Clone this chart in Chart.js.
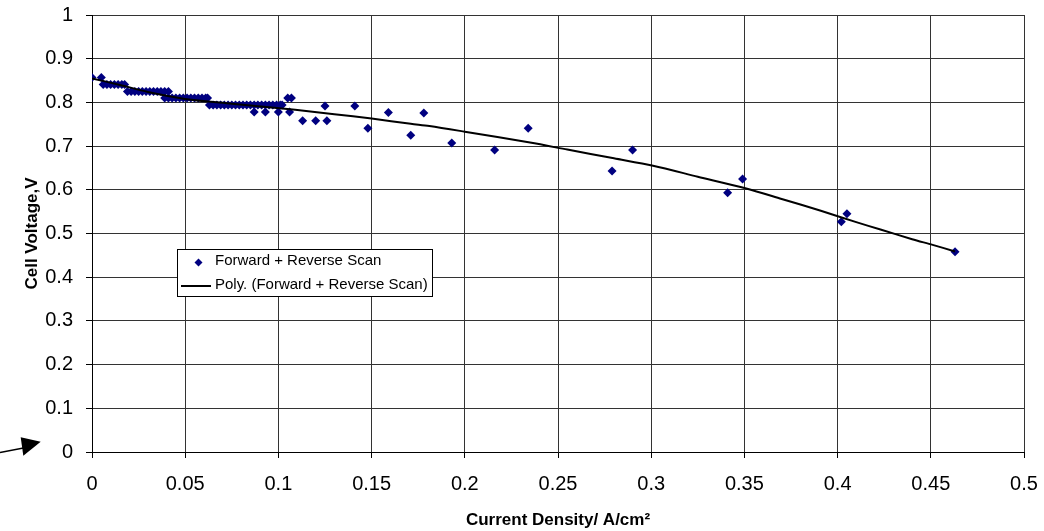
<!DOCTYPE html>
<html>
<head>
<meta charset="utf-8">
<script src="https://cdn.jsdelivr.net/npm/chart.js@4/dist/chart.umd.min.js"></script>
<style>
html,body{margin:0;padding:0;background:#fff;}
#wrap{width:1044px;height:531px;}
</style>
</head>
<body>
<div id="wrap"><canvas id="c" width="1044" height="531"></canvas></div>
<script>
// ---- data ----
const scanX = [
  0, 0.005,
  0.006, 0.008, 0.010, 0.012, 0.014, 0.016, 0.0175,
  0.019, 0.021, 0.023, 0.025, 0.027, 0.029, 0.031, 0.033, 0.035, 0.037, 0.039, 0.041,
  0.039, 0.041, 0.043, 0.045, 0.047, 0.049, 0.051, 0.053, 0.055, 0.057, 0.059, 0.061, 0.062,
  0.063, 0.065, 0.067, 0.069, 0.071, 0.073, 0.075, 0.077, 0.079, 0.081, 0.083, 0.085, 0.087, 0.089, 0.091, 0.093, 0.095, 0.097, 0.099, 0.101, 0.102,
  0.087, 0.093, 0.100, 0.106,
  0.105, 0.107,
  0.113, 0.120, 0.126, 0.125, 0.141, 0.148, 0.159, 0.171, 0.178, 0.193, 0.216, 0.234,
  0.279, 0.290, 0.341, 0.349, 0.402, 0.405, 0.463
];
const scanY = [
  0.857, 0.857,
  0.841, 0.841, 0.841, 0.841, 0.841, 0.841, 0.841,
  0.825, 0.825, 0.825, 0.825, 0.825, 0.825, 0.825, 0.825, 0.825, 0.825, 0.825, 0.825,
  0.810, 0.810, 0.810, 0.810, 0.810, 0.810, 0.810, 0.810, 0.810, 0.810, 0.810, 0.810, 0.810,
  0.794, 0.794, 0.794, 0.794, 0.794, 0.794, 0.794, 0.794, 0.794, 0.794, 0.794, 0.794, 0.794, 0.794, 0.794, 0.794, 0.794, 0.794, 0.794, 0.794, 0.794,
  0.778, 0.778, 0.778, 0.778,
  0.810, 0.810,
  0.758, 0.758, 0.758, 0.792, 0.792, 0.741, 0.777, 0.725, 0.776, 0.707, 0.691, 0.741,
  0.643, 0.691, 0.593, 0.625, 0.527, 0.545, 0.458
];
// trendline
const polyX = [0, 0.015, 0.03, 0.05, 0.075, 0.095, 0.109, 0.13, 0.15, 0.171, 0.181, 0.2, 0.235, 0.255, 0.28, 0.301, 0.325, 0.351, 0.37, 0.391, 0.41, 0.423, 0.44, 0.451, 0.463];
const polyY = [0.855, 0.84, 0.824, 0.808, 0.797, 0.789, 0.783, 0.773, 0.763, 0.751, 0.746, 0.733, 0.708, 0.692, 0.672, 0.655, 0.630, 0.603, 0.579, 0.552, 0.526, 0.509, 0.487, 0.474, 0.459];
const seriesLabels = ['Forward + Reverse Scan', 'Poly. (Forward + Reverse Scan)'];
const xTitle = 'Current Density/ A/cm\u00B2';
const yTitle = 'Cell Voltage,V';

const scanPts = scanX.map((x, i) => ({x: x, y: scanY[i]}));
const polyPts = polyX.map((x, i) => ({x: x, y: polyY[i]}));

const FONT = '"Liberation Sans", Arial, sans-serif';
const NAVY = '#000080';

const insideLegend = {
  id: 'insideLegend',
  afterDraw(chart) {
    const ctx = chart.ctx;
    const ds = chart.data.datasets;
    ctx.save();
    ctx.fillStyle = '#fff';
    ctx.fillRect(177, 249, 255, 47);
    ctx.strokeStyle = '#000';
    ctx.lineWidth = 1;
    ctx.strokeRect(177.5, 249.5, 255, 47);
    // marker item
    ctx.fillStyle = ds[0].backgroundColor;
    ctx.beginPath();
    ctx.moveTo(198.5, 258.5); ctx.lineTo(202.5, 262.5); ctx.lineTo(198.5, 266.5); ctx.lineTo(194.5, 262.5);
    ctx.closePath(); ctx.fill();
    // line item
    ctx.strokeStyle = ds[1].borderColor;
    ctx.lineWidth = 2;
    ctx.beginPath(); ctx.moveTo(181, 286); ctx.lineTo(211, 286); ctx.stroke();
    ctx.fillStyle = '#000';
    ctx.font = '15px ' + FONT;
    ctx.textBaseline = 'middle';
    ctx.textAlign = 'left';
    ctx.fillText(ds[0].label, 215, 261);
    ctx.fillText(ds[1].label, 215, 285);
    ctx.restore();
  }
};

const arrowMark = {
  id: 'arrowMark',
  afterDraw(chart) {
    const ctx = chart.ctx;
    ctx.save();
    ctx.strokeStyle = '#000';
    ctx.fillStyle = '#000';
    ctx.lineWidth = 1.5;
    ctx.beginPath(); ctx.moveTo(0, 452.5); ctx.lineTo(26, 447.5); ctx.stroke();
    ctx.beginPath();
    ctx.moveTo(20.7, 437.3); ctx.lineTo(40.7, 441.7); ctx.lineTo(23.3, 455.7);
    ctx.closePath(); ctx.fill();
    ctx.restore();
  }
};

const fmt = v => String(Math.round(v * 100) / 100);

new Chart(document.getElementById('c'), {
  type: 'scatter',
  data: {
    datasets: [
      {
        label: seriesLabels[0],
        data: scanPts,
        showLine: false,
        pointStyle: 'rectRot',
        pointRadius: 4.5,
        pointHoverRadius: 4.5,
        backgroundColor: NAVY,
        borderColor: NAVY,
        borderWidth: 0,
        order: 2
      },
      {
        label: seriesLabels[1],
        data: polyPts,
        showLine: true,
        pointRadius: 0,
        borderColor: '#000',
        backgroundColor: '#000',
        borderWidth: 2,
        tension: 0.3,
        fill: false,
        order: 1
      }
    ]
  },
  options: {
    responsive: false,
    animation: false,
    devicePixelRatio: 1,
    layout: {padding: {left: 0, right: 20, top: 15, bottom: 0}},
    plugins: {
      legend: {display: false},
      tooltip: {enabled: false}
    },
    scales: {
      x: {
        type: 'linear',
        min: 0, max: 0.5,
        afterFit(s) { s.height = 79; s.paddingLeft = 0; s.paddingRight = 0; },
        ticks: {stepSize: 0.05, callback: fmt, color: '#000', font: {family: FONT, size: 20}, padding: 14, maxRotation: 0, autoSkip: false},
        grid: {color: '#333', lineWidth: 1, tickLength: 6, tickColor: '#000'},
        border: {color: '#000', width: 1},
        title: {display: true, text: xTitle, color: '#000', font: {family: FONT, size: 17, weight: 'bold'}, padding: {top: 0, bottom: 0}}
      },
      y: {
        type: 'linear',
        min: 0, max: 1,
        afterFit(s) { s.width = 92; s.paddingTop = 0; s.paddingBottom = 0; },
        ticks: {stepSize: 0.1, callback: fmt, color: '#000', font: {family: FONT, size: 20}, padding: 13},
        grid: {color: '#333', lineWidth: 1, tickLength: 6, tickColor: '#000'},
        border: {color: '#000', width: 1},
        title: {display: true, text: yTitle, color: '#000', font: {family: FONT, size: 17, weight: 'bold'}, padding: {top: 22, bottom: 0}}
      }
    }
  },
  plugins: [insideLegend, arrowMark]
});
</script>
</body>
</html>
